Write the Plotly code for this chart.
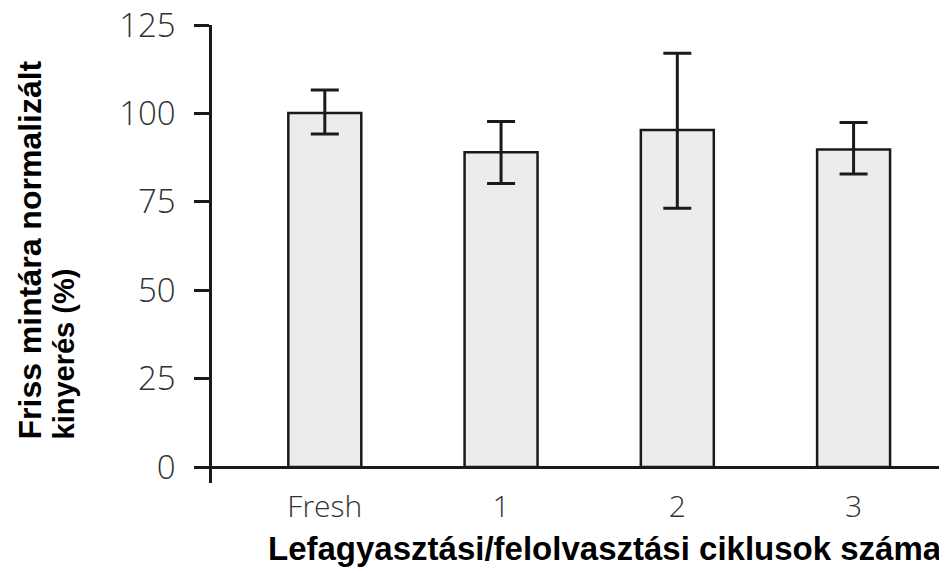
import plotly.graph_objects as go

categories = ["Fresh", "1", "2", "3"]
values = [100.1, 89.0, 95.3, 89.8]
err_plus = [6.5, 8.7, 21.7, 7.6]
err_minus = [5.9, 8.8, 22.1, 6.9]
y_ticks = [0, 25, 50, 75, 100, 125]

fig = go.Figure()
fig.add_trace(go.Bar(
    x=categories, y=values, width=0.414,
    marker=dict(color="#ececec", line=dict(color="#1a1a1a", width=2.5)),
    error_y=dict(type="data", symmetric=False, array=err_plus, arrayminus=err_minus,
                 color="#1a1a1a", thickness=3, width=14),
))

fig.update_layout(
    width=939, height=565,
    margin=dict(l=204, r=0, t=17, b=90, autoexpand=False),
    plot_bgcolor="white", paper_bgcolor="white",
    showlegend=False,
    xaxis=dict(type="category", range=[-0.64, 3.53], showline=False, ticks="",
               showgrid=False, zeroline=False, ticklabelstandoff=3, automargin=False,
               tickfont=dict(family="Open Sans", size=30, color="#333333", weight=300)),
    yaxis=dict(range=[-4.5, 125], tickvals=y_ticks, showgrid=False, automargin=False,
               showline=True, linecolor="#1a1a1a", linewidth=2.5,
               ticks="outside", ticklen=15, tickwidth=2.5, tickcolor="#1a1a1a",
               zeroline=True, zerolinecolor="#1a1a1a", zerolinewidth=2.5,
               ticklabelstandoff=12, ticklabeloverflow="allow",
               tickfont=dict(family="Open Sans", size=33, color="#333333", weight=300)),
    annotations=[
        dict(text="<b>Lefagyasztási/felolvasztási ciklusok száma</b>",
             xref="paper", yref="paper", x=(605 - 212) / 735, y=-(548 - 483) / 458,
             xanchor="center", yanchor="middle", showarrow=False,
             font=dict(family="Liberation Sans", size=33, color="black")),
        dict(text="<b>Friss mintára normalizált</b>",
             xref="paper", yref="paper", x=-(212 - 29) / 735, y=(483 - 442) / 458,
             xanchor="center", yanchor="bottom", showarrow=False, textangle=-90,
             font=dict(family="Liberation Sans", size=32, color="black")),
        dict(text="<b>kinyerés (%)</b>",
             xref="paper", yref="paper", x=-(212 - 63) / 735, y=(483 - 442) / 458,
             xanchor="center", yanchor="bottom", showarrow=False, textangle=-90,
             font=dict(family="Liberation Sans", size=29, color="black")),
    ],
)

fig.write_html("out.html")
